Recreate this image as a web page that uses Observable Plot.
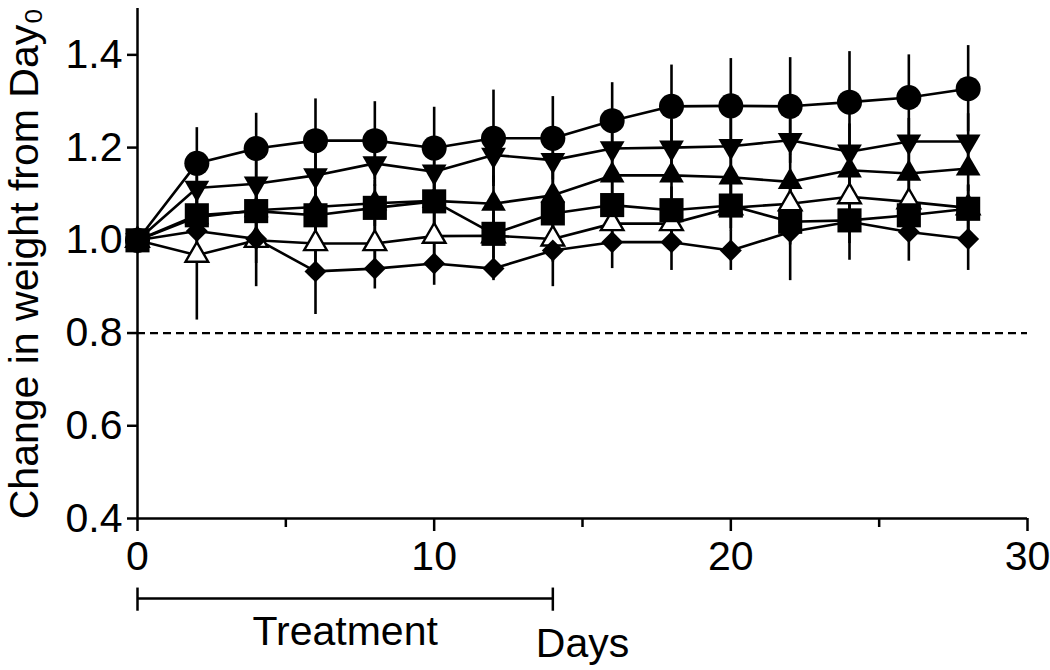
<!DOCTYPE html>
<html>
<head>
<meta charset="utf-8">
<script src="https://cdn.jsdelivr.net/npm/d3@7"></script>
<script src="https://cdn.jsdelivr.net/npm/@observablehq/plot@0.6"></script>
<style>
  html, body { margin: 0; padding: 0; background: #fff; }
</style>
</head>
<body>
<div id="chart"></div>
<script>
// ---- data ----
const days = [0, 2, 4, 6, 8, 10, 12, 14, 16, 18, 20, 22, 24, 26, 28];

const circleMean   = [1.0, 1.166, 1.198, 1.215, 1.215, 1.199, 1.220, 1.220, 1.258, 1.289, 1.290, 1.289, 1.298, 1.308, 1.327];
const circleErr    = [0, 0.077, 0.076, 0.090, 0.084, 0.088, 0.104, 0.090, 0.082, 0.089, 0.102, 0.105, 0.109, 0.092, 0.093];

const invTriMean   = [1.0, 1.113, 1.122, 1.140, 1.166, 1.148, 1.184, 1.173, 1.198, 1.200, 1.203, 1.216, 1.191, 1.213, 1.213];
const invTriErr    = [0, 0.05, 0.05, 0.06, 0.05, 0.05, 0.06, 0.05, 0.05, 0.06, 0.06, 0.05, 0.06, 0.05, 0.06];

const triMean      = [1.0, 1.050, 1.065, 1.072, 1.080, 1.085, 1.079, 1.097, 1.140, 1.140, 1.136, 1.126, 1.151, 1.144, 1.155];
const triErr       = [0, 0.05, 0.05, 0.05, 0.05, 0.06, 0.06, 0.05, 0.05, 0.05, 0.05, 0.06, 0.05, 0.05, 0.05];

const openTriMean  = [1.0, 0.968, 1.000, 0.993, 0.993, 1.009, 1.010, 1.003, 1.036, 1.036, 1.070, 1.079, 1.094, 1.083, 1.070];
const openTriErr   = [0, 0.14, 0.05, 0.05, 0.05, 0.05, 0.05, 0.05, 0.05, 0.05, 0.05, 0.05, 0.05, 0.05, 0.05];

const diamondMean  = [1.0, 1.020, 1.003, 0.933, 0.939, 0.950, 0.939, 0.978, 0.996, 0.996, 0.978, 1.018, 1.040, 1.018, 1.003];
const diamondErr   = [0, 0.05, 0.103, 0.093, 0.044, 0.047, 0.026, 0.078, 0.057, 0.061, 0.043, 0.105, 0.083, 0.063, 0.068];

const squareMean   = [1.0, 1.054, 1.063, 1.054, 1.070, 1.084, 1.014, 1.058, 1.076, 1.065, 1.075, 1.040, 1.043, 1.054, 1.068];
const squareErr    = [0, 0.04, 0.05, 0.05, 0.05, 0.05, 0.05, 0.05, 0.05, 0.05, 0.05, 0.05, 0.05, 0.05, 0.05];

const seriesNames = ["circle", "invTriangle", "triangle", "openTriangle", "diamond", "square"];
const seriesMeans = [circleMean, invTriMean, triMean, openTriMean, diamondMean, squareMean];
const seriesErrs  = [circleErr, invTriErr, triErr, openTriErr, diamondErr, squareErr];

const yTicks = [0.4, 0.6, 0.8, 1.0, 1.2, 1.4];
const xTicks = [0, 10, 20, 30];
const xMinorTicks = [5, 15, 25];
const threshold = 0.8;
const treatmentDays = [0, 14];
const treatmentLabel = "Treatment";
const xLabel = "Days";
const yLabel = "Change in weight from Day\u2080";

// ---- build table ----
const rows = [];
seriesNames.forEach((s, i) => {
  days.forEach((d, j) => {
    rows.push({series: s, day: d, mean: seriesMeans[i][j], err: seriesErrs[i][j]});
  });
});

// inverted triangle symbol (same geometry as d3.symbolTriangle, flipped)
const symbolInvTriangle = {
  draw(context, size) {
    const y = -Math.sqrt(size / (Math.sqrt(3) * 3));
    context.moveTo(0, -y * 2);
    context.lineTo(-Math.sqrt(3) * y, y);
    context.lineTo(Math.sqrt(3) * y, y);
    context.closePath();
  }
};

const styles = {
  circle:       {symbol: d3.symbolCircle,   r: 12.5, fill: "black"},
  invTriangle:  {symbol: symbolInvTriangle, r: 9.2,  fill: "black"},
  triangle:     {symbol: d3.symbolTriangle, r: 9.2,  fill: "black"},
  openTriangle: {symbol: d3.symbolTriangle, r: 8.4,  fill: "white", stroke: "black", strokeWidth: 2.4},
  diamond:      {symbol: d3.symbolDiamond2, r: 9.9,  fill: "black"},
  square:       {symbol: d3.symbolSquare,   r: 13.6, fill: "black"}
};

const dotMarks = seriesNames.map(s =>
  Plot.dot(rows.filter(d => d.series === s), {x: "day", y: "mean", ...styles[s]})
);

const font = "'Liberation Sans', Arial, Helvetica, sans-serif";

const plot = Plot.plot({
  width: 1050,
  height: 670,
  marginLeft: 137,
  marginRight: 23,
  marginTop: 8,
  marginBottom: 152,
  x: {domain: [0, 30]},
  y: {domain: [0.4, 1.5]},
  style: {fontFamily: font, fontSize: "41px", color: "black", background: "white", overflow: "visible"},
  marks: [
    Plot.ruleY([threshold], {stroke: "black", strokeWidth: 2.2, strokeDasharray: "8,5"}),
    Plot.ruleX(rows, {x: "day", y1: d => d.mean - d.err, y2: d => d.mean + d.err, stroke: "black", strokeWidth: 2.6}),
    Plot.line(rows, {x: "day", y: "mean", z: "series", stroke: "black", strokeWidth: 2.6}),
    ...dotMarks,
    Plot.axisY({ticks: yTicks, tickFormat: d3.format(".1f"), tickSize: 10, tickPadding: 5, strokeWidth: 2.5, label: null, fontSize: 41}),
    Plot.axisX({ticks: xTicks, tickFormat: d3.format("d"), tickSize: 13, tickPadding: 9, strokeWidth: 2.5, label: null, fontSize: 41}),
    Plot.axisX({ticks: xMinorTicks, tickFormat: () => "", tickSize: 9, strokeWidth: 2.5, label: null}),
    Plot.ruleX([0], {stroke: "black", strokeWidth: 2.5}),
    Plot.ruleY([0.4], {stroke: "black", strokeWidth: 2.5}),
    // treatment bracket below the axis
    Plot.ruleY([0.4], {x1: treatmentDays[0], x2: treatmentDays[1], dy: 80, stroke: "black", strokeWidth: 2.5}),
    Plot.ruleX(treatmentDays, {y1: 0.25, y2: 0.2, stroke: "black", strokeWidth: 2.5}),
    Plot.text([treatmentLabel], {x: () => (treatmentDays[0] + treatmentDays[1]) / 2, y: () => 0.4, dy: 113, fontSize: 41, fill: "black"}),
    Plot.text([xLabel], {frameAnchor: "bottom", dy: 138, fontSize: 41, fill: "black"}),
    Plot.text([yLabel], {frameAnchor: "left", textAnchor: "middle", lineAnchor: "middle", rotate: -90, dx: -113, fontSize: 41, fill: "black"})
  ]
});

document.getElementById("chart").appendChild(plot);
</script>
</body>
</html>
